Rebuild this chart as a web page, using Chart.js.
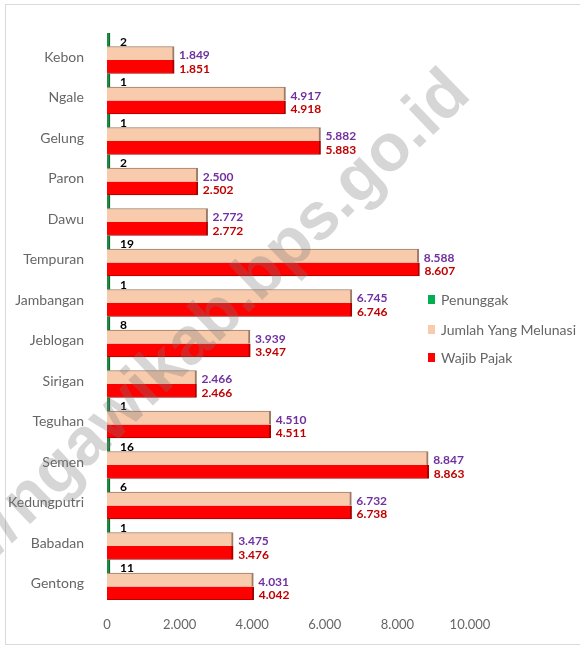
<!DOCTYPE html>
<html>
<head>
<meta charset="utf-8">
<script src="https://cdn.jsdelivr.net/npm/chart.js@4"></script>
<style>
  html, body { margin: 0; padding: 0; background: #ffffff; }
  #wrap { position: relative; width: 580px; height: 649px; overflow: hidden; }
  canvas { display: block; }
</style>
</head>
<body>
<div id="wrap"><canvas id="c" width="580" height="649"></canvas></div>
<script>
const categories = ["Kebon", "Ngale", "Gelung", "Paron", "Dawu", "Tempuran", "Jambangan", "Jeblogan", "Sirigan", "Teguhan", "Semen", "Kedungputri", "Babadan", "Gentong"];
const penunggak = [2, 1, 1, 2, 0, 19, 1, 8, 0, 1, 16, 6, 1, 11];
const melunasi = [1849, 4917, 5882, 2500, 2772, 8588, 6745, 3939, 2466, 4510, 8847, 6732, 3475, 4031];
const wajibPajak = [1851, 4918, 5883, 2502, 2772, 8607, 6746, 3947, 2466, 4511, 8863, 6738, 3476, 4042];
const seriesNames = ["Penunggak", "Jumlah Yang Melunasi", "Wajib Pajak"];
const xTickValues = [0, 2000, 4000, 6000, 8000, 10000];
const watermarkText = "ngawikab.bps.go.id";

function fmt(v) {
  return String(v).replace(/\B(?=(\d{3})+(?!\d))/g, ".");
}

const GRAY = "#666666";
const FONT = "Lato, 'Liberation Sans', sans-serif";

const frameAndBg = {
  id: "frameAndBg",
  beforeDraw(chart) {
    const ctx = chart.ctx;
    ctx.save();
    ctx.fillStyle = "#ffffff";
    ctx.fillRect(0, 0, chart.width, chart.height);
    ctx.strokeStyle = "#D9D9D9";
    ctx.lineWidth = 1;
    ctx.strokeRect(5.5, 4.5, 620, 640);
    ctx.restore();
  }
};

const valueLabels = {
  id: "valueLabels",
  afterDatasetsDraw(chart) {
    const ctx = chart.ctx;
    const colors = ["#000000", "#7030A0", "#C00000"];
    const offsets = [10, 5, 5];
    ctx.save();
    ctx.font = "bold 12px " + FONT;
    ctx.textAlign = "left";
    ctx.textBaseline = "middle";
    chart.data.datasets.forEach((ds, i) => {
      const meta = chart.getDatasetMeta(i);
      meta.data.forEach((el, j) => {
        const v = ds.data[j];
        if (v === 0) return;
        ctx.fillStyle = colors[i];
        ctx.fillText(fmt(v), el.x + offsets[i], el.y + 2);
      });
    });
    ctx.restore();
  }
};

const customLegend = {
  id: "customLegend",
  afterDraw(chart) {
    const ctx = chart.ctx;
    const cols = ["#00B050", "#F8CBAD", "#FF0000"];
    const ys = [299, 329, 357];
    ctx.save();
    ctx.font = "14px " + FONT;
    ctx.textAlign = "left";
    ctx.textBaseline = "middle";
    seriesNames.forEach((name, i) => {
      ctx.fillStyle = cols[i];
      ctx.fillRect(428, ys[i] - 4, 7, 9);
      ctx.fillStyle = GRAY;
      ctx.fillText(name, 441, ys[i] + 1);
    });
    ctx.restore();
  }
};

const watermark = {
  id: "watermark",
  afterDraw(chart) {
    const ctx = chart.ctx;
    ctx.save();
    ctx.translate(14, 514);
    ctx.rotate(-44 * Math.PI / 180);
    ctx.font = "bold 60px 'Liberation Sans', sans-serif";
    const w = ctx.measureText(watermarkText).width;
    const s = 620 / w;
    ctx.font = "bold " + (60 * s).toFixed(1) + "px 'Liberation Sans', sans-serif";
    ctx.fillStyle = "rgba(120,120,120,0.3)";
    ctx.textBaseline = "middle";
    ctx.textAlign = "left";
    ctx.fillText(watermarkText, 0, 0);
    ctx.textAlign = "right";
    ctx.fillText("//", -4, 0);
    ctx.restore();
  }
};

new Chart(document.getElementById("c"), {
  type: "bar",
  data: {
    labels: categories,
    datasets: [
      {
        label: seriesNames[0],
        data: penunggak,
        backgroundColor: "#1E8B45",
        borderColor: "#0E5A2A",
        borderWidth: { top: 0, right: 1, bottom: 0, left: 0 },
        minBarLength: 3,
        categoryPercentage: 1.0,
        barPercentage: 1.0
      },
      {
        label: seriesNames[1],
        data: melunasi,
        backgroundColor: "#F8CBAD",
        borderColor: "#9C7B68",
        borderWidth: { top: 1, right: 2, bottom: 0, left: 0 },
        categoryPercentage: 1.0,
        barPercentage: 1.0
      },
      {
        label: seriesNames[2],
        data: wajibPajak,
        backgroundColor: "#FF0000",
        borderColor: "#A80000",
        borderWidth: { top: 0, right: 2, bottom: 1, left: 0 },
        categoryPercentage: 1.0,
        barPercentage: 1.0
      }
    ]
  },
  options: {
    indexAxis: "y",
    responsive: false,
    animation: false,
    events: [],
    layout: { padding: { top: 33, right: 110, left: 0, bottom: 0 } },
    plugins: {
      legend: { display: false },
      tooltip: { enabled: false },
      title: { display: false }
    },
    scales: {
      x: {
        min: 0,
        max: 10000,
        afterBuildTicks(scale) {
          scale.ticks = xTickValues.map(v => ({ value: v }));
        },
        afterFit(scale) { scale.height = 49; },
        grid: { display: false },
        border: { display: false },
        ticks: {
          color: GRAY,
          font: { family: FONT, size: 13 },
          padding: 9,
          maxRotation: 0,
          callback: v => fmt(v)
        }
      },
      y: {
        afterFit(scale) { scale.width = 107; },
        grid: { display: false },
        border: { display: false },
        ticks: {
          color: GRAY,
          font: { family: FONT, size: 14 },
          padding: 15,
          labelOffset: 4,
          autoSkip: false
        }
      }
    }
  },
  plugins: [frameAndBg, valueLabels, customLegend, watermark]
});
</script>
</body>
</html>
